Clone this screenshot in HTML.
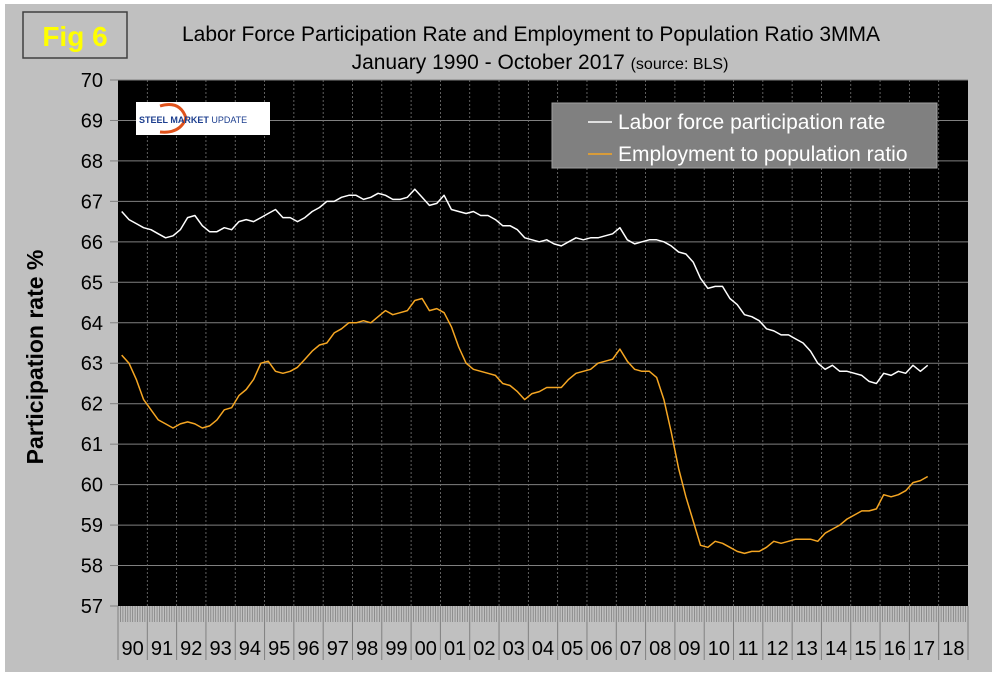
<!DOCTYPE html>
<html><head><meta charset="utf-8"><style>
body{margin:0;background:#fff;}
svg text{font-family:"Liberation Sans",Arial,sans-serif;}
</style></head><body>
<svg width="997" height="678" xmlns="http://www.w3.org/2000/svg">
<rect x="0" y="0" width="997" height="678" fill="#fff"/>
<rect x="5" y="4" width="987" height="668" fill="#c0c0c0"/>
<rect x="23" y="12" width="104" height="46" fill="none" stroke="#404040" stroke-width="1.5"/>
<text x="75" y="46" font-size="28" font-weight="bold" fill="#ffff00" text-anchor="middle">Fig 6</text>
<text x="531" y="41" font-size="21" text-anchor="middle" fill="#000">Labor Force Participation Rate and Employment to Population Ratio 3MMA</text>
<text x="540" y="69" font-size="21" text-anchor="middle" fill="#000">January 1990 - October 2017 <tspan font-size="16">(source: BLS)</tspan></text>
<rect x="118" y="80" width="850" height="526" fill="#000"/>
<g id="grid"></g>
<g id="ticks"></g>
<g id="ylabels"></g>
<g id="xlabels"></g>
<text transform="translate(43,357) rotate(-90)" font-size="23" font-weight="bold" text-anchor="middle" fill="#000">Participation rate %</text>
<g>
<rect x="136" y="102" width="134" height="33" fill="#fff"/>
<path d="M160 106 Q180 100 186 118 Q180 134 160 132" fill="none" stroke="#e0521b" stroke-width="3"/>
<text x="139" y="123" font-size="9" font-weight="bold" fill="#1d3f8f">STEEL MARKET <tspan font-weight="normal">UPDATE</tspan></text>
</g>
<g id="series"></g>
<g>
<rect x="552" y="103" width="385" height="65" fill="#808080" stroke="#a0a0a0"/>
<line x1="588" y1="122" x2="612" y2="122" stroke="#fff" stroke-width="1.5"/>
<text x="618" y="129" font-size="21" fill="#fff">Labor force participation rate</text>
<line x1="588" y1="154" x2="612" y2="154" stroke="#f5a623" stroke-width="1.5"/>
<text x="618" y="161" font-size="21" fill="#fff">Employment to population ratio</text>
</g>
</svg>
<script>
const years=["90","91","92","93","94","95","96","97","98","99","00","01","02","03","04","05","06","07","08","09","10","11","12","13","14","15","16","17","18"];
const yTicks=[57,58,59,60,61,62,63,64,65,66,67,68,69,70];
const lfpr=[66.75,66.55,66.45,66.35,66.3,66.2,66.1,66.15,66.3,66.6,66.65,66.4,66.25,66.25,66.35,66.3,66.5,66.55,66.5,66.6,66.7,66.8,66.6,66.6,66.5,66.6,66.75,66.85,67.0,67.0,67.1,67.15,67.15,67.05,67.1,67.2,67.15,67.05,67.05,67.1,67.3,67.1,66.9,66.95,67.15,66.8,66.75,66.7,66.75,66.65,66.65,66.55,66.4,66.4,66.3,66.1,66.05,66.0,66.05,65.95,65.9,66.0,66.1,66.05,66.1,66.1,66.15,66.2,66.35,66.05,65.95,66.0,66.05,66.05,66.0,65.9,65.75,65.7,65.5,65.1,64.85,64.9,64.9,64.6,64.45,64.2,64.15,64.05,63.85,63.8,63.7,63.7,63.6,63.5,63.3,63.0,62.85,62.95,62.8,62.8,62.75,62.7,62.55,62.5,62.75,62.7,62.8,62.75,62.95,62.8,62.95];
const epop=[63.2,63.0,62.6,62.1,61.85,61.6,61.5,61.4,61.5,61.55,61.5,61.4,61.45,61.6,61.85,61.9,62.2,62.35,62.6,63.0,63.05,62.8,62.75,62.8,62.9,63.1,63.3,63.45,63.5,63.75,63.85,64.0,64.0,64.05,64.0,64.15,64.3,64.2,64.25,64.3,64.55,64.6,64.3,64.35,64.25,63.9,63.4,63.0,62.85,62.8,62.75,62.7,62.5,62.45,62.3,62.1,62.25,62.3,62.4,62.4,62.4,62.6,62.75,62.8,62.85,63.0,63.05,63.1,63.35,63.05,62.85,62.8,62.8,62.65,62.1,61.3,60.4,59.7,59.1,58.5,58.45,58.6,58.55,58.45,58.35,58.3,58.35,58.35,58.45,58.6,58.55,58.6,58.65,58.65,58.65,58.6,58.8,58.9,59.0,59.15,59.25,59.35,59.35,59.4,59.75,59.7,59.75,59.85,60.05,60.1,60.2];
const NS="http://www.w3.org/2000/svg";
const L=118,R=968,T=80,B=606;
const yw=(R-L)/years.length;
function yS(v){return B-(v-57)/(70-57)*(B-T);}
function xS(q){return L+(q/4+0.125)*yw;}
function mk(tag,attrs,parent){const e=document.createElementNS(NS,tag);for(const k in attrs)e.setAttribute(k,attrs[k]);document.getElementById(parent).appendChild(e);return e;}
yTicks.forEach(v=>{
  const y=yS(v);
  if(v>57){const g=mk('line',{x1:L,x2:R,y1:y,y2:y,stroke:'#808080','stroke-width':1},'grid');
  
  }
  mk('line',{x1:L-8,x2:L,y1:y,y2:y,stroke:'#808080'},'ticks');
  const t=mk('text',{x:103,y:y+7,'font-size':20,'text-anchor':'end',fill:'#000'},'ylabels');
  t.textContent=v;
  
  
});
years.forEach((yr,i)=>{
  const x=L+i*yw;
  if(i>0){const g=mk('line',{x1:x,x2:x,y1:T,y2:B,stroke:'#777','stroke-dasharray':'2,2','stroke-width':0.8},'grid');
  
  }
  mk('line',{x1:x,x2:x,y1:B,y2:660,stroke:'#808080','stroke-width':1},'ticks');
  for(let m=1;m<12;m++){const mx=x+m*yw/12;mk('line',{x1:mx,x2:mx,y1:B,y2:622,stroke:'#808080','stroke-width':0.8},'ticks');}
  const t=mk('text',{x:x+yw/2,y:655,'font-size':20,'text-anchor':'middle',fill:'#000'},'xlabels');
  t.textContent=yr;
  
  
});
mk('line',{x1:R,x2:R,y1:B,y2:660,stroke:'#808080'},'ticks');
function line(data,color,name){
  const d=data.map((v,i)=>(i?'L':'M')+xS(i).toFixed(1)+' '+yS(v).toFixed(1)).join(' ');
  const p=mk('path',{d:d,fill:'none',stroke:color,'stroke-width':1.5,'stroke-linejoin':'round'},'series');
  
  
}
line(lfpr,'#ffffff','lfpr-line');
line(epop,'#f5a623','epop-line');
</script>
</body></html>
